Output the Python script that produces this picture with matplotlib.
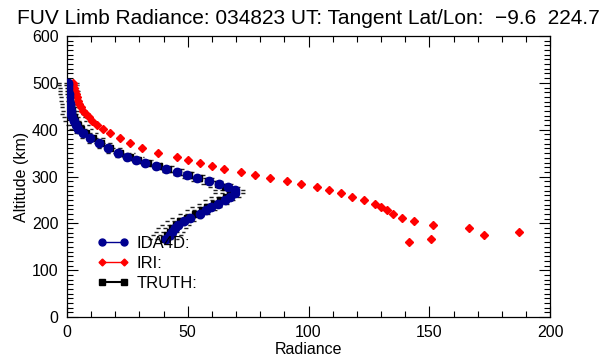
import numpy as np
import matplotlib
matplotlib.use('Agg')
import matplotlib.pyplot as plt
from matplotlib.lines import Line2D
from matplotlib.ticker import MultipleLocator

plt.rcParams['font.family'] = ['Liberation Sans', 'DejaVu Sans']

######### DATA
title = 'FUV Limb Radiance: 034823 UT: Tangent Lat/Lon:  \u22129.6  224.7'

# IRI model radiance
alt_iri = [160, 167, 175, 182, 190, 197, 205, 212, 220, 228, 235, 242, 250, 257,
           264, 271, 278, 284, 291, 297, 303, 310, 316, 322, 329, 335, 342, 351,
           361, 372, 382, 392, 402, 411, 419, 427, 434, 441, 448, 455, 462, 469,
           476, 483, 490, 496, 500]
rad_iri = [141.6, 150.7, 172.7, 187.0, 166.5, 151.5, 143.7, 138.7, 135.0, 132.5,
           130.0, 127.5, 123.0, 118.0, 113.5, 108.5, 103.5, 97.0, 91.0, 84.0,
           78.0, 72.0, 65.0, 60.0, 55.0, 50.0, 45.5, 37.5, 31.0, 26.0, 22.0,
           18.0, 14.8, 12.5, 10.6, 9.0, 7.8, 6.8, 5.9, 5.2, 4.6, 4.1, 3.6, 3.2,
           2.9, 2.6, 2.5]

# IDA4D and TRUTH share the same tangent altitudes
alt = [167, 175, 182, 190, 197, 205, 212, 220, 228, 235, 242, 250, 257, 264,
       271, 278, 284, 291, 297, 303, 310, 316, 322, 329, 335, 342, 351, 361,
       372, 382, 392, 402, 411, 419, 427, 434, 441, 448, 455, 462, 469, 476,
       483, 490, 496, 500]
rad_ida = [41.0, 42.6, 43.5, 44.8, 46.0, 48.5, 51.0, 55.0, 57.5, 59.5, 62.5,
           65.5, 67.5, 69.5, 69.5, 66.5, 63.0, 58.8, 54.0, 49.7, 45.5, 41.0,
           37.0, 32.3, 28.5, 24.8, 21.0, 17.0, 13.2, 9.5, 6.8, 4.8, 3.6, 2.8,
           2.2, 1.8, 1.5, 1.3, 1.1, 0.9, 0.8, 0.7, 0.6, 0.5, 0.4, 0.4]
rad_truth = [40.0, 41.5, 42.5, 43.5, 45.0, 47.0, 49.5, 53.0, 56.0, 58.0, 61.0,
             63.5, 66.0, 67.5, 67.5, 65.5, 62.5, 58.5, 54.5, 50.5, 46.0, 42.0,
             38.0, 33.5, 29.5, 26.0, 22.0, 18.0, 14.0, 11.0, 8.0, 6.0, 4.5,
             3.5, 2.8, 2.3, 2.0, 1.7, 1.5, 1.3, 1.1, 1.0, 0.8, 0.7, 0.6, 0.5]
err_truth = [6.5, 6.5, 6.5, 6.5, 6.5, 6.5, 7.0, 7.0, 7.0, 7.0, 7.0, 7.0, 7.0,
             7.0, 7.0, 7.0, 7.0, 7.0, 7.0, 6.5, 6.5, 6.5, 6.5, 6.0, 6.0, 6.0,
             6.0, 5.5, 5.5, 5.5, 5.0, 5.0, 5.0, 5.0, 5.0, 5.0, 4.5, 4.5, 4.5,
             4.5, 4.5, 4.5, 4.5, 4.5, 4.5, 4.5]

blue = '#000090'

######### PLOT
fig = plt.figure(figsize=(6.08, 3.6), dpi=100)
ax = fig.add_axes([0.110, 0.119, 0.795, 0.781])

# truth error bars drawn as dashed horizontal lines
t = np.array(rad_truth)
e = np.array(err_truth)
ax.hlines(alt, t - e, t + e, colors='#222222', linestyles=(0, (3, 2)),
          linewidth=1.0, clip_on=False, zorder=2)
ax.plot(rad_truth, alt, linestyle='none', marker='s', markersize=4.5,
        color='black', zorder=3)
ax.plot(rad_iri, alt_iri, linestyle='none', marker='D', markersize=3.6,
        color='red', zorder=4)
ax.plot(rad_ida, alt, linestyle='none', marker='o', markersize=6.0,
        color=blue, zorder=5)

ax.set_xlim(0, 200)
ax.set_ylim(0, 600)
ax.xaxis.set_major_locator(MultipleLocator(50))
ax.xaxis.set_minor_locator(MultipleLocator(10))
ax.yaxis.set_major_locator(MultipleLocator(100))
ax.yaxis.set_minor_locator(MultipleLocator(10))
ax.tick_params(which='both', direction='in', top=True, right=True,
               labelsize=11.5, width=0.8)
ax.tick_params(which='major', length=8, pad=6)
ax.tick_params(which='minor', length=4)
for s in ax.spines.values():
    s.set_linewidth(0.9)

ax.set_xlabel('Radiance', fontsize=11.5, labelpad=1)
ax.set_ylabel('Altitude (km)', fontsize=11.5, labelpad=2)
ax.set_title(title, fontsize=15, pad=9)

handles = [
    Line2D([], [], color=blue, lw=1.0, marker='o', markersize=5),
    Line2D([], [], color='red', lw=1.0, marker='D', markersize=3.5),
    Line2D([], [], color='black', lw=1.5, marker='s', markersize=5),
]
ax.legend(handles, ['IDA4D:', 'IRI:', 'TRUTH:'], loc='upper left',
          bbox_to_anchor=(0.062, 0.29), frameon=False, fontsize=12,
          numpoints=2, handlelength=1.9, handletextpad=0.5,
          labelspacing=0.3, borderpad=0, borderaxespad=0)

fig.savefig('out.png', dpi=100)
